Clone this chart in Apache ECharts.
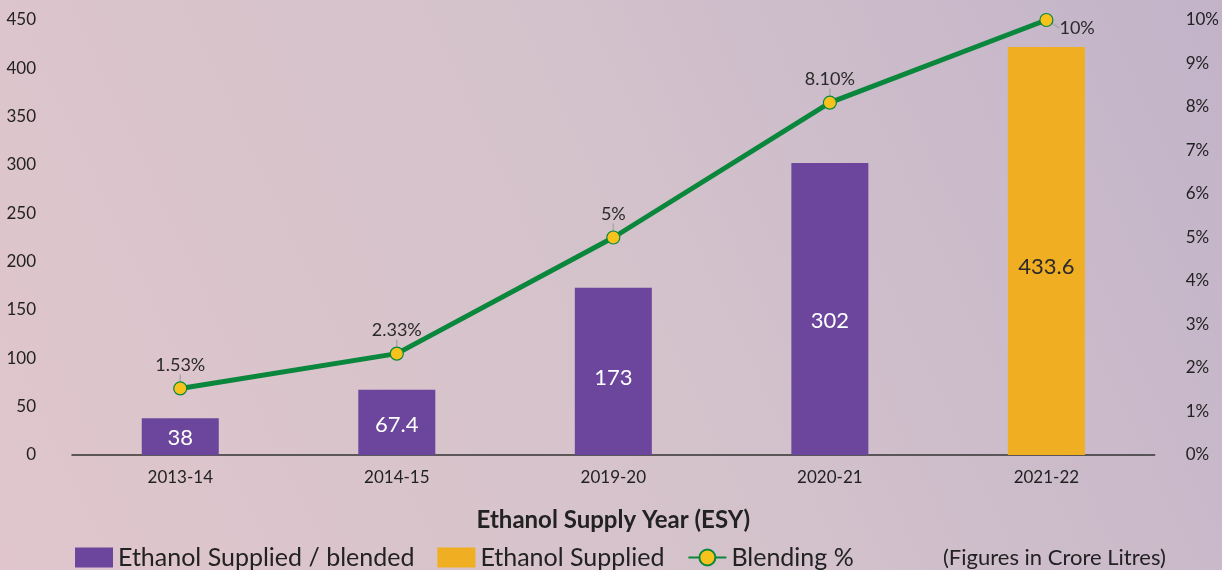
<!DOCTYPE html>
<html>
<head>
	<title>Ethanol blending</title>
	<meta charset="utf-8" />
	<script type="text/javascript" src="https://cdn.jsdelivr.net/npm/echarts@6/dist/echarts.min.js"></script>
	<style type="text/css">
		html, body{ margin:0; padding:0; }
		#container{
			width: 1222px;
			height: 570px;
		}
	</style>
</head>
<body>
<div id="container"></div>
</body>

<script type="text/javascript">
	// data
	var years = ['2013-14', '2014-15', '2019-20', '2020-21', '2021-22'];
	var blended = [38, 67.4, 173, 302, '-'];		// purple bars
	var supplied = ['-', '-', '-', '-', 422];		// orange bar (drawn height)
	var barLabels = ['38', '67.4', '173', '302', '433.6'];
	var blendPct = [1.53, 2.33, 5, 8.1, 10];
	var pctLabels = ['1.53%', '2.33%', '5%', '8.10%', '10%'];
	var leftTicks = [0, 450, 50];		// min, max, interval
	var rightTicks = [0, 10, 1];

	var font = 'Lato, "Open Sans", sans-serif';
	var chart = echarts.init(document.getElementById("container"));

	function barLabel(p){ return barLabels[p.dataIndex]; }

	var lastIdx = blendPct.length - 1;
	var lineData = blendPct.map(function(v, i){
		var item = {value: v};
		if(i == lastIdx){
			item.label = {position: 'right', distance: 4};
		}
		return item;
	});

	var options = {
		backgroundColor: {
			type: 'linear', x: 1, y: 0, x2: 0, y2: 1,
			colorStops: [
				{offset: 0, color: '#c2b3c9'},
				{offset: 0.45, color: '#d3c2cb'},
				{offset: 1, color: '#e0c6cc'}
			]
		},
		textStyle: {fontFamily: font},
		grid: {left: 72, right: 66, top: 20, bottom: 115},
		legend: {
			left: 75, top: 545, padding: 0,
			itemWidth: 38, itemHeight: 20, itemGap: 23,
			textStyle: {fontSize: 25, color: '#222', fontFamily: font, lineHeight: 24},
			data: [
				{name: 'Ethanol Supplied / blended', icon: 'rect'},
				{name: 'Ethanol Supplied', icon: 'rect'},
				{name: 'Blending %'}
			]
		},
		graphic: [{
			type: 'text', left: 943, top: 547,
			style: {text: '(Figures in Crore Litres)', font: '22px ' + font, fill: '#222'}
		}],
		xAxis: {
			type: 'category',
			data: years,
			name: 'Ethanol Supply Year (ESY)',
			nameLocation: 'middle',
			nameGap: 53,
			nameTextStyle: {fontSize: 24, fontWeight: 'bold', color: '#222'},
			axisLine: {lineStyle: {color: '#333', width: 1.5}},
			axisTick: {show: false},
			axisLabel: {fontSize: 17, color: '#222', margin: 14}
		},
		yAxis: [
			{
				type: 'value',
				min: leftTicks[0], max: leftTicks[1], interval: leftTicks[2],
				splitLine: {show: false},
				axisLabel: {fontSize: 17, color: '#222', margin: 36}
			},
			{
				type: 'value',
				min: rightTicks[0], max: rightTicks[1], interval: rightTicks[2],
				splitLine: {show: false},
				axisLabel: {fontSize: 17, color: '#222', margin: 31, formatter: '{value}%'}
			}
		],
		series: [
			{
				name: 'Ethanol Supplied / blended',
				type: 'bar',
				stack: 'e',
				barWidth: 77,
				data: blended,
				itemStyle: {color: '#6b469c'},
				label: {
					show: true, position: ['50%', '54%'], align: 'center', verticalAlign: 'middle',
					formatter: barLabel, color: '#fff', fontSize: 22
				}
			},
			{
				name: 'Ethanol Supplied',
				type: 'bar',
				stack: 'e',
				barWidth: 77,
				data: supplied,
				itemStyle: {color: '#f0ae22'},
				label: {
					show: true, position: ['50%', '54%'], align: 'center', verticalAlign: 'middle',
					formatter: barLabel, color: '#2a2a2a', fontSize: 22
				}
			},
			{
				name: 'Blending %',
				type: 'line',
				yAxisIndex: 1,
				data: lineData,
				symbol: 'circle',
				symbolSize: 13,
				lineStyle: {color: '#0a873d', width: 5},
				itemStyle: {color: '#f6c21c', borderColor: '#0a873d', borderWidth: 1.2},
				label: {
					show: true, position: 'top', distance: 0,
					fontSize: 18, color: '#2a2a2a',
					formatter: function(p){ return pctLabels[p.dataIndex]; }
				},
				labelLine: {show: true, lineStyle: {color: '#a9a9a9', width: 1.5}},
				labelLayout: function(p){
					return p.dataIndex == lastIdx ? {dx: 2, dy: 8} : {dy: -7};
				}
			}
		]
	};

	chart.setOption(options);
</script>

</html>
